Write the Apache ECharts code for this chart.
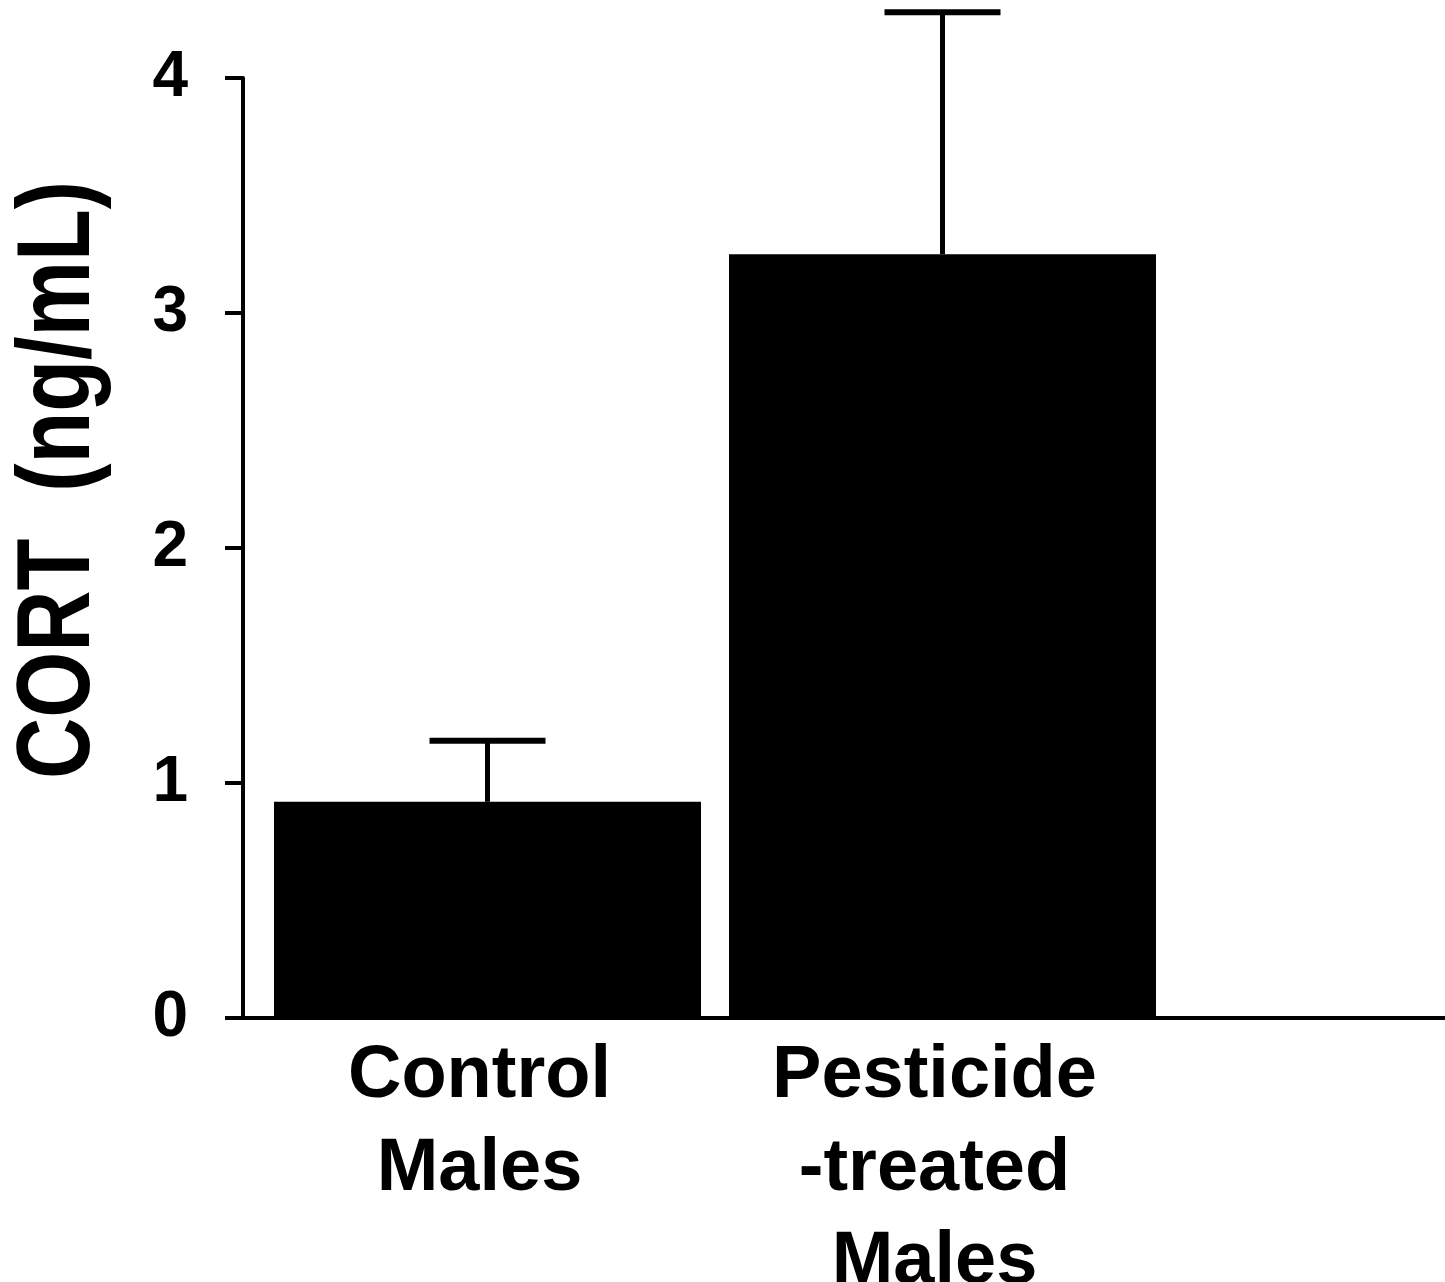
<!DOCTYPE html>
<html>
<head>
<meta charset="utf-8">
<style>
  html, body { margin: 0; padding: 0; background: #fff; }
  #chart { width: 1445px; height: 1282px; }
</style>
<script src="https://cdn.jsdelivr.net/npm/echarts@6/dist/echarts.min.js"></script>
</head>
<body>
<div id="chart"></div>
<script>
// Plasma corticosterone by group (mean and upper SEM)
const categories = ['Control\nMales', 'Pesticide\n-treated\nMales'];
const meanCort = [0.92, 3.25];
const semCort = [0.26, 1.03];
const yTicks = [0, 1, 2, 3, 4];

const FONT = '"Liberation Sans", Arial, Helvetica, sans-serif';

const chart = echarts.init(document.getElementById('chart'), null, { renderer: 'canvas' });

const errorData = categories.map((c, i) => [i, meanCort[i], meanCort[i] + semCort[i]]);

const option = {
  backgroundColor: '#ffffff',
  animation: false,
  grid: [
    // frame with the visible axes
    { left: 243, right: 0, top: 78, bottom: 264, outerBoundsMode: 'none' },
    // plotting area of the two bars
    { left: 260, right: 275, top: 78, bottom: 264, outerBoundsMode: 'none' }
  ],
  xAxis: [
    {
      gridIndex: 0, type: 'value', min: 0, max: 1,
      axisLine: { show: true, lineStyle: { color: '#000', width: 4 } },
      axisTick: { show: false }, axisLabel: { show: false }, splitLine: { show: false }
    },
    {
      gridIndex: 1, type: 'category', data: categories,
      axisLine: { show: false }, axisTick: { show: false },
      axisLabel: {
        color: '#000', fontFamily: FONT, fontWeight: 'bold', fontSize: 74,
        lineHeight: 93, margin: 12, padding: [0, 16, 0, 0]
      }
    }
  ],
  yAxis: [
    {
      gridIndex: 0, type: 'value', min: yTicks[0], max: yTicks[yTicks.length - 1], interval: 1,
      axisLine: { show: true, lineStyle: { color: '#000', width: 4 } },
      axisTick: { show: true, length: 18, lineStyle: { color: '#000', width: 4 } },
      axisLabel: { color: '#000', fontFamily: FONT, fontWeight: 'bold', fontSize: 64, margin: 55 },
      splitLine: { show: false }
    },
    {
      gridIndex: 1, type: 'value', min: yTicks[0], max: yTicks[yTicks.length - 1],
      show: false
    }
  ],
  graphic: [
    {
      type: 'text', x: 60, y: 480, rotation: Math.PI / 2, scaleX: 0.815,
      style: {
        text: 'CORT  (ng/mL)', fill: '#000', fontFamily: FONT, fontWeight: 'bold', fontSize: 104,
        align: 'center', verticalAlign: 'middle'
      }
    }
  ],
  series: [
    {
      type: 'bar', xAxisIndex: 1, yAxisIndex: 1,
      data: meanCort, barWidth: 427,
      itemStyle: { color: '#000' }, z: 2
    },
    {
      type: 'custom', xAxisIndex: 1, yAxisIndex: 1, clip: false, z: 3,
      data: errorData,
      renderItem: function (params, api) {
        const base = api.coord([api.value(0), api.value(1)]);
        const top = api.coord([api.value(0), api.value(2)]);
        const half = 58;
        return {
          type: 'group',
          children: [
            { type: 'line', shape: { x1: base[0], y1: base[1], x2: top[0], y2: top[1] },
              style: { stroke: '#000', lineWidth: 5 } },
            { type: 'line', shape: { x1: top[0] - half, y1: top[1], x2: top[0] + half, y2: top[1] },
              style: { stroke: '#000', lineWidth: 6 } }
          ]
        };
      }
    }
  ]
};

chart.setOption(option);
</script>
</body>
</html>
